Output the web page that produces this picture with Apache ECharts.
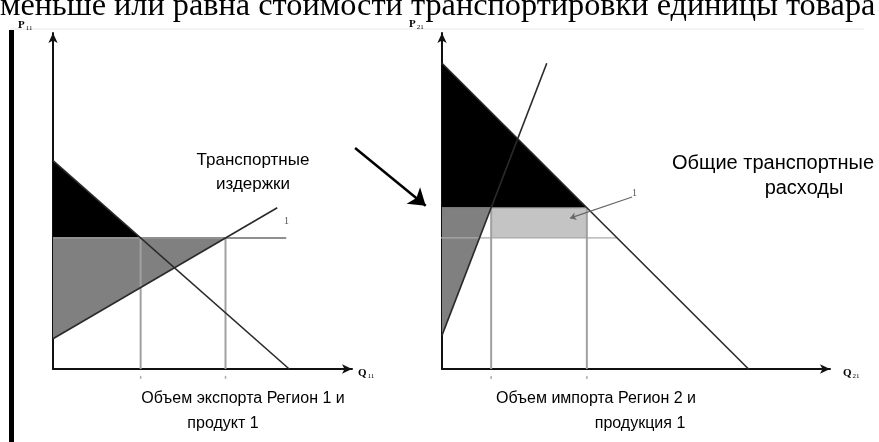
<!DOCTYPE html>
<html>
<head>
<meta charset="utf-8">
<script src="https://cdn.jsdelivr.net/npm/echarts@6/dist/echarts.min.js"></script>
<style>
  html, body { margin: 0; padding: 0; background: #fff; }
  #chart { width: 879px; height: 442px; }
</style>
</head>
<body>
<div id="chart"></div>
<script>
// region 1 (export) – demand / supply lines, world price
const region1Demand = [[0, 62], [79, 0]];
const region1Supply = [[0, 9], [75, 48]];
const worldPrice = 39;
const worldPriceEnd1 = 78;
// region 2 (import)
const region2Demand = [[0, 91], [79, 0]];
const region2Supply = [[0, 10], [27, 91]];
const importPrice = 48;
const worldPriceSpan2 = [-40, 45];

const xAtY = (line, y) => {
  const [[x0, y0], [x1, y1]] = line;
  return x0 + (y - y0) * (x1 - x0) / (y1 - y0);
};

const q1d = xAtY(region1Demand, worldPrice);
const q1s = xAtY(region1Supply, worldPrice);
const q2s = xAtY(region2Supply, importPrice);
const q2d = xAtY(region2Demand, importPrice);

const myChart = echarts.init(document.getElementById('chart'), null, { renderer: 'canvas' });

function axis(gi) {
  return {
    type: 'value', gridIndex: gi, min: 0, max: 100,
    axisLine: { show: true, symbol: ['none', 'arrow'], symbolSize: [7, 10],
      lineStyle: { color: '#111', width: 2 } },
    axisTick: { show: false }, axisLabel: { show: false }, splitLine: { show: false }
  };
}

function poly(gi, pts, color) {
  return {
    type: 'custom', xAxisIndex: gi, yAxisIndex: gi, data: [[0, 0]], silent: true, z: 1,
    clip: false,
    renderItem: (params, api) => ({
      type: 'polygon',
      shape: { points: pts.map(p => api.coord(p)) },
      style: { fill: color }
    })
  };
}

function seg(gi, pts, color, width, type) {
  return {
    type: 'line', xAxisIndex: gi, yAxisIndex: gi, data: pts, symbol: 'none',
    clip: false, silent: true, z: 3,
    lineStyle: { color: color, width: width, type: type || 'solid' }
  };
}

function ticks(gi, qs) {
  return {
    type: 'scatter', xAxisIndex: gi, yAxisIndex: gi, clip: false, silent: true,
    data: qs.map(q => [q, -2.5]), symbol: 'rect', symbolSize: [1.5, 3],
    itemStyle: { color: '#999' }
  };
}

const labelFont = 'Liberation Sans';
const sub = {
  p: { fontFamily: 'Liberation Serif', fontWeight: 'bold', fontSize: 11, color: '#333' },
  s: { fontFamily: 'Liberation Serif', fontSize: 7, color: '#777', padding: [6, 0, 0, 1] }
};
// plain text helper for the captions
const caption = (x, y, text, size) => ({
  type: 'text', x: x, y: y,
  style: { text: text, font: size + 'px "' + labelFont + '"', fill: '#000',
    align: 'center', verticalAlign: 'middle' }
});

const option = {
  backgroundColor: '#fff',
  animation: false,
  grid: [
    { left: 53, top: 33, width: 299, height: 336 },
    { left: 442, top: 33, width: 388, height: 336 }
  ],
  xAxis: [axis(0), axis(1)],
  yAxis: [axis(0), axis(1)],
  series: [
    // region 1
    poly(0, [[0, region1Demand[0][1]], [0, worldPrice], [q1d, worldPrice]], '#000'),
    poly(0, [[0, worldPrice], [q1s, worldPrice], [0, region1Supply[0][1]]], '#808080'),
    seg(0, [[q1d, worldPrice], [q1d, 0]], '#a0a0a0', 2),
    seg(0, [[q1s, worldPrice], [q1s, 0]], '#a0a0a0', 2),
    seg(0, [[0, worldPrice], [worldPriceEnd1, worldPrice]], '#909090', 2),
    seg(0, region1Demand, '#2a2a2a', 1.6),
    seg(0, region1Supply, '#2a2a2a', 1.6),
    ticks(0, [q1d, q1s]),
    // region 2
    poly(1, [[0, region2Demand[0][1]], [0, importPrice], [q2d, importPrice]], '#000'),
    poly(1, [[0, importPrice], [q2s, importPrice], [0, region2Supply[0][1]]], '#808080'),
    poly(1, [[q2s, worldPrice], [q2s, importPrice], [q2d, importPrice], [q2d, worldPrice]], '#c4c4c4'),
    seg(1, [[worldPriceSpan2[0], worldPrice], [worldPriceSpan2[1], worldPrice]], '#aaaaaa', 1.3),
    seg(1, [[0, importPrice], [q2d, importPrice]], '#777', 1.3),
    seg(1, [[q2s, importPrice], [q2s, 0]], '#a0a0a0', 2),
    seg(1, [[q2d, importPrice], [q2d, 0]], '#a0a0a0', 2),
    seg(1, region2Demand, '#2a2a2a', 1.6),
    seg(1, region2Supply, '#2a2a2a', 1.6),
    ticks(1, [q2s, q2d]),
    // brace for transport cost
    seg(1, [[-1.5, importPrice], [-3, importPrice - 0.5], [-3, 44], [-4, 43.5], [-3, 43],
      [-3, worldPrice + 0.5], [-1.5, worldPrice]], '#999', 1.2),
    // arrows
    {
      type: 'lines', coordinateSystem: 'cartesian2d', xAxisIndex: 1, yAxisIndex: 1,
      clip: false, silent: true, z: 5,
      symbol: ['none', 'arrow'], symbolSize: [0, 16],
      lineStyle: { color: '#000', width: 2.5, opacity: 1, curveness: 0 },
      data: [{ coords: [[-22.4, 65.8], [-4.2, 48.6]] }]
    },
    {
      type: 'lines', coordinateSystem: 'cartesian2d', xAxisIndex: 1, yAxisIndex: 1,
      clip: false, silent: true, z: 5,
      symbol: ['none', 'arrow'], symbolSize: [0, 6],
      lineStyle: { color: '#666', width: 1.2, opacity: 1, curveness: 0 },
      data: [{ coords: [[49, 51.2], [33, 44.9]] }]
    }
  ],
  graphic: [
    { type: 'text', left: 0, top: -9, style: {
      text: 'меньше или равна стоимости транспортировки единицы товара',
      font: '32.3px "Liberation Serif"', fill: '#000' } },
    { type: 'line', shape: { x1: 10, y1: 29, x2: 864, y2: 29 }, style: { stroke: '#e8e8e8', lineWidth: 1 } },
    { type: 'rect', shape: { x: 9, y: 30, width: 5, height: 412 }, style: { fill: '#000' } },
    { type: 'text', x: 18, y: 19, style: { text: '{p|P}{s|11}', rich: sub } },
    { type: 'text', x: 409, y: 18, style: { text: '{p|P}{s|21}', rich: sub } },
    { type: 'text', x: 358, y: 367, style: { text: '{p|Q}{s|11}', rich: sub } },
    { type: 'text', x: 843, y: 367, style: { text: '{p|Q}{s|21}', rich: sub } },
    { type: 'text', x: 284, y: 216, style: { text: '1', font: '10px "Liberation Serif"', fill: '#555' } },
    { type: 'text', x: 632, y: 188, style: { text: '1', font: '10px "Liberation Serif"', fill: '#555' } },
    caption(253, 160, 'Транспортные', 17),
    caption(253, 184, 'издержки', 17),
    caption(773, 163, 'Общие транспортные', 20),
    caption(804, 188, 'расходы', 20),
    caption(243, 399, 'Объем экспорта Регион 1 и', 16),
    caption(223, 424, 'продукт 1', 16),
    caption(596, 399, 'Объем импорта Регион 2 и', 16),
    caption(640, 424, 'продукция 1', 16)
  ]
};

myChart.setOption(option);
</script>
</body>
</html>
